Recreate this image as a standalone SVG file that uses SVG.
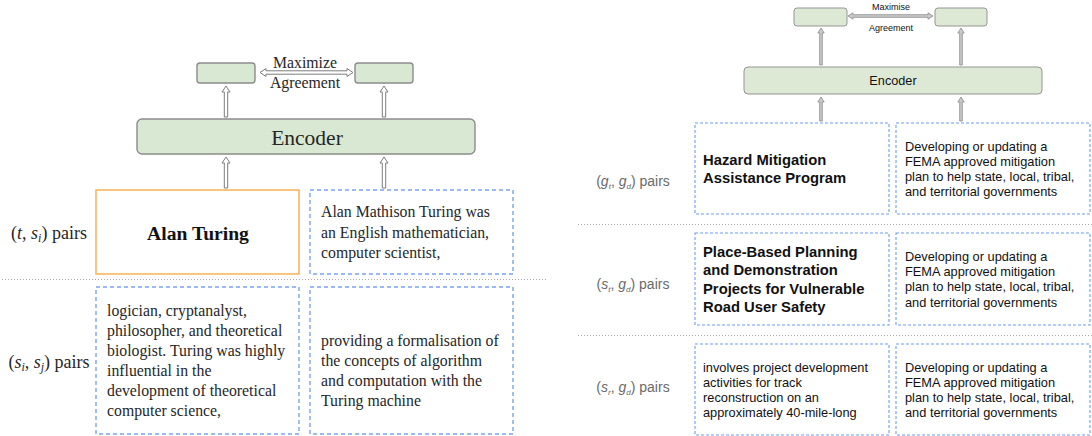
<svg xmlns="http://www.w3.org/2000/svg" width="1092" height="436" viewBox="0 0 1092 436">
  <style>
    .bg { fill: #ffffff; }
    .enc-l { fill: #d9e8d2; stroke: #8c8c8c; stroke-width: 1.4; }
    .enc-r { fill: #dde9d5; stroke: #959595; stroke-width: 1; }
    .arrow-l { fill: #ffffff; stroke: #7d7d7d; stroke-width: 1; }
    .arrow-r { fill: #c9c9c9; stroke: #8a8a8a; stroke-width: 0.8; }
    .title-box { fill: #ffffff; stroke: #f5b75e; stroke-width: 1.6; }
    .dash-l { fill: #ffffff; stroke: #7ba4ef; stroke-width: 1.4; stroke-dasharray: 4 3; }
    .dash-r { fill: #ffffff; stroke: #6f9ef0; stroke-width: 1.1; stroke-dasharray: 3 2; }
    .sep { stroke: #a8a8a8; stroke-width: 1; stroke-dasharray: 1 2; fill: none; }
    .serif { font-family: "Liberation Serif", "DejaVu Serif", serif; fill: #262626; }
    .sans { font-family: "Liberation Sans", Arial, sans-serif; fill: #111111; }
    .lbl-r { font-family: "Liberation Sans", Arial, sans-serif; fill: #6a6a6a; font-size: 14px; }
  </style>

  <rect class="bg" x="0" y="0" width="1092" height="436"/>

  <!-- ===== Left panel ===== -->
  <g id="left-proj-a"><rect class="enc-l" x="197" y="63" width="58" height="20" rx="3"/></g>
  <g id="left-proj-b"><rect class="enc-l" x="355" y="63" width="58" height="20" rx="3"/></g>
  <g id="left-agreement">
    <text class="serif" x="305" y="68" font-size="15.8" text-anchor="middle">Maximize</text>
    <text class="serif" x="305" y="88" font-size="15.8" text-anchor="middle">Agreement</text>
  </g>
  <g id="left-encoder">
    <rect class="enc-l" x="137" y="119" width="338" height="35" rx="5"/>
    <text class="serif" x="307" y="145" font-size="21.5" text-anchor="middle" fill="#1a1a1a">Encoder</text>
  </g>

  <g id="left-row-labels">
    <text class="serif" x="49" y="239" font-size="18" text-anchor="middle">(<tspan font-style="italic">t</tspan>, <tspan font-style="italic">s</tspan><tspan font-style="italic" font-size="12" dy="3">i</tspan><tspan dy="-3">) pairs</tspan></text>
    <text class="serif" x="49" y="368" font-size="18" text-anchor="middle">(<tspan font-style="italic">s</tspan><tspan font-style="italic" font-size="12" dy="3">i</tspan><tspan dy="-3">, </tspan><tspan font-style="italic">s</tspan><tspan font-style="italic" font-size="12" dy="3">j</tspan><tspan dy="-3">) pairs</tspan></text>
  </g>

  <g id="left-title">
    <rect class="title-box" x="96" y="190" width="203" height="84"/>
    <text x="198" y="240" font-family="'Liberation Serif', 'DejaVu Serif', serif" font-size="19.6" font-weight="bold" text-anchor="middle" fill="#111">Alan Turing</text>
  </g>
  <g id="left-sentence-1">
    <rect class="dash-l" x="310" y="190" width="203" height="84"/>
    <text class="serif" font-size="15.8">
      <tspan x="321" y="217">Alan Mathison Turing was</tspan>
      <tspan x="321" y="237.5">an English mathematician,</tspan>
      <tspan x="321" y="258">computer scientist,</tspan>
    </text>
  </g>
  <g id="left-sentence-2">
    <rect class="dash-l" x="96" y="287" width="203" height="147"/>
    <text class="serif" font-size="15.8">
      <tspan x="107" y="316">logician, cryptanalyst,</tspan>
      <tspan x="107" y="336">philosopher, and theoretical</tspan>
      <tspan x="107" y="356">biologist. Turing was highly</tspan>
      <tspan x="107" y="376">influential in the</tspan>
      <tspan x="107" y="396">development of theoretical</tspan>
      <tspan x="107" y="416">computer science,</tspan>
    </text>
  </g>
  <g id="left-sentence-3">
    <rect class="dash-l" x="310" y="287" width="203" height="147"/>
    <text class="serif" font-size="15.8">
      <tspan x="321" y="346">providing a formalisation of</tspan>
      <tspan x="321" y="366">the concepts of algorithm</tspan>
      <tspan x="321" y="386">and computation with the</tspan>
      <tspan x="321" y="406">Turing machine</tspan>
    </text>
  </g>

  <!-- ===== Right panel ===== -->
  <g id="right-proj-a"><rect class="enc-r" x="794" y="8" width="53" height="18" rx="3"/></g>
  <g id="right-proj-b"><rect class="enc-r" x="935" y="8" width="52" height="18" rx="3"/></g>
  <g id="right-agreement">
    <text class="sans" x="891" y="10" font-size="9" text-anchor="middle" fill="#666">Maximise</text>
    <text class="sans" x="891" y="31" font-size="9" text-anchor="middle" fill="#666">Agreement</text>
  </g>
  <g id="right-encoder">
    <rect class="enc-r" x="744" y="67" width="298" height="27" rx="4"/>
    <text class="sans" x="893" y="85" font-size="12.7" text-anchor="middle">Encoder</text>
  </g>

  <g id="right-row-labels">
    <text class="lbl-r" x="633" y="186" text-anchor="middle">(<tspan font-style="italic">g</tspan><tspan font-style="italic" font-size="8" dy="3">t</tspan><tspan dy="-3">, </tspan><tspan font-style="italic">g</tspan><tspan font-style="italic" font-size="8" dy="3">d</tspan><tspan dy="-3">) pairs</tspan></text>
    <text class="lbl-r" x="633" y="289" text-anchor="middle">(<tspan font-style="italic">s</tspan><tspan font-style="italic" font-size="8" dy="3">t</tspan><tspan dy="-3">, </tspan><tspan font-style="italic">g</tspan><tspan font-style="italic" font-size="8" dy="3">d</tspan><tspan dy="-3">) pairs</tspan></text>
    <text class="lbl-r" x="633" y="392" text-anchor="middle">(<tspan font-style="italic">s</tspan><tspan font-style="italic" font-size="8" dy="3">r</tspan><tspan dy="-3">, </tspan><tspan font-style="italic">g</tspan><tspan font-style="italic" font-size="8" dy="3">d</tspan><tspan dy="-3">) pairs</tspan></text>
  </g>

  <g id="right-grant-1">
    <rect class="dash-r" x="695" y="123" width="194" height="91"/>
    <text class="sans" font-size="14.8" font-weight="bold">
      <tspan x="703" y="165">Hazard Mitigation</tspan>
      <tspan x="703" y="183">Assistance Program</tspan>
    </text>
  </g>
  <g id="right-desc-1">
    <rect class="dash-r" x="896" y="123" width="194" height="91"/>
    <text class="sans" font-size="12.8">
      <tspan x="905" y="150.5">Developing or updating a</tspan>
      <tspan x="905" y="165.7">FEMA approved mitigation</tspan>
      <tspan x="905" y="180.9">plan to help state, local, tribal,</tspan>
      <tspan x="905" y="196">and territorial governments</tspan>
    </text>
  </g>

  <g id="right-grant-2">
    <rect class="dash-r" x="695" y="233" width="194" height="92"/>
    <text class="sans" font-size="14.8" font-weight="bold">
      <tspan x="703" y="257">Place-Based Planning</tspan>
      <tspan x="703" y="275.3">and Demonstration</tspan>
      <tspan x="703" y="293.6">Projects for Vulnerable</tspan>
      <tspan x="703" y="312">Road User Safety</tspan>
    </text>
  </g>
  <g id="right-desc-2">
    <rect class="dash-r" x="896" y="233" width="194" height="92"/>
    <text class="sans" font-size="12.8">
      <tspan x="905" y="261">Developing or updating a</tspan>
      <tspan x="905" y="276.2">FEMA approved mitigation</tspan>
      <tspan x="905" y="291.4">plan to help state, local, tribal,</tspan>
      <tspan x="905" y="306.6">and territorial governments</tspan>
    </text>
  </g>

  <g id="right-sentence-3">
    <rect class="dash-r" x="695" y="344" width="194" height="91"/>
    <text class="sans" font-size="12.8">
      <tspan x="703" y="372">involves project development</tspan>
      <tspan x="703" y="387">activities for track</tspan>
      <tspan x="703" y="402">reconstruction on an</tspan>
      <tspan x="703" y="417">approximately 40-mile-long</tspan>
    </text>
  </g>
  <g id="right-desc-3">
    <rect class="dash-r" x="896" y="344" width="194" height="91"/>
    <text class="sans" font-size="12.8">
      <tspan x="905" y="372">Developing or updating a</tspan>
      <tspan x="905" y="387">FEMA approved mitigation</tspan>
      <tspan x="905" y="402">plan to help state, local, tribal,</tspan>
      <tspan x="905" y="417">and territorial governments</tspan>
    </text>
  </g>

  <!-- row separators -->
  <g id="separators">
    <line class="sep" x1="2" y1="279.5" x2="548" y2="279.5"/>
    <line class="sep" x1="578" y1="224.5" x2="1092" y2="224.5"/>
    <line class="sep" x1="578" y1="335.5" x2="1092" y2="335.5"/>
  </g>

  <!-- connectors: hollow block arrows -->
  <g id="connectors">
    <path class="arrow-l" d="M224.3,117 L224.3,92 L222,92 L226,86 L230,92 L227.7,92 L227.7,117 Z"/>
    <path class="arrow-l" d="M382.3,117 L382.3,92 L380,92 L384,86 L388,92 L385.7,92 L385.7,117 Z"/>
    <path class="arrow-l" d="M224.3,188 L224.3,163 L222,163 L226,157 L230,163 L227.7,163 L227.7,188 Z"/>
    <path class="arrow-l" d="M382.3,188 L382.3,163 L380,163 L384,157 L388,163 L385.7,163 L385.7,188 Z"/>
    <path class="arrow-l" d="M260,72.5 L266,68.5 L266,70.8 L347,70.8 L347,68.5 L353,72.5 L347,76.5 L347,74.2 L266,74.2 L266,76.5 Z"/>

    <path class="arrow-r" d="M819.7,65 L819.7,33 L817.8,33 L821,28 L824.2,33 L822.3,33 L822.3,65 Z"/>
    <path class="arrow-r" d="M959.7,65 L959.7,33 L957.8,33 L961,28 L964.2,33 L962.3,33 L962.3,65 Z"/>
    <path class="arrow-r" d="M819.7,121 L819.7,102 L817.8,102 L821,97 L824.2,102 L822.3,102 L822.3,121 Z"/>
    <path class="arrow-r" d="M959.7,121 L959.7,102 L957.8,102 L961,97 L964.2,102 L962.3,102 L962.3,121 Z"/>
    <path class="arrow-r" d="M848,16 L853,12.8 L853,14.7 L928,14.7 L928,12.8 L933,16 L928,19.2 L928,17.3 L853,17.3 L853,19.2 Z"/>
  </g>
</svg>
